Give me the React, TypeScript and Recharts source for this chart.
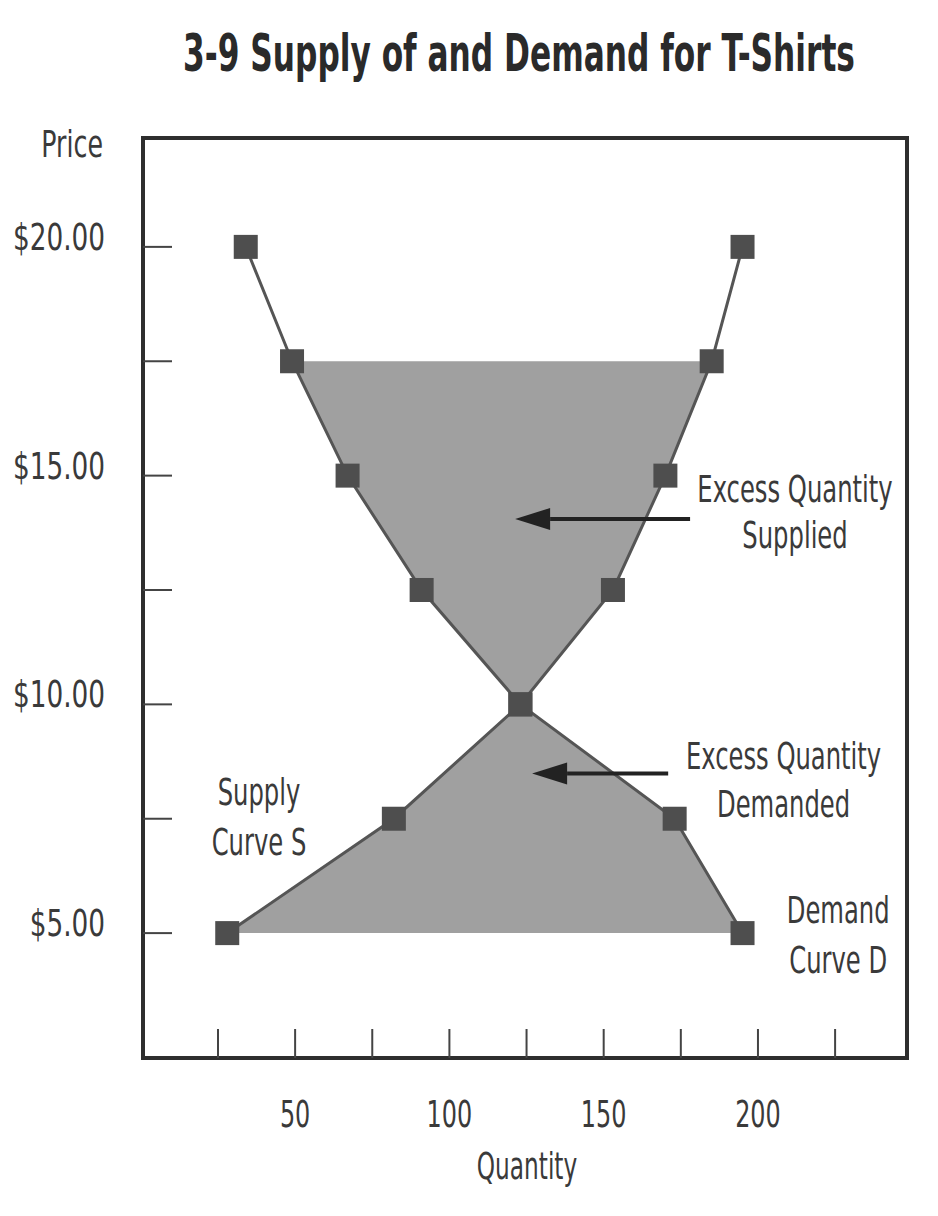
import React from 'react'
import {
  ComposedChart,
  Line,
  Area,
  XAxis,
  YAxis,
  ReferenceArea,
  ReferenceLine,
  ReferenceDot,
} from 'recharts'

// price levels and the quantity at that price
const prices = [5, 7.5, 10, 12.5, 15, 17.5, 20]
const supplyQty = [28, 82, 123, 153, 170, 185, 195]
const demandQty = [195, 173, 123, 91, 67, 49, 34]

const priceTicks = [5, 7.5, 10, 12.5, 15, 17.5, 20]
const quantityTicks = [25, 50, 75, 100, 125, 150, 175, 200, 225]
const labelledQuantities = [50, 100, 150, 200]

const data = prices.map((price, i) => ({
  price,
  supply: supplyQty[i],
  demand: demandQty[i],
}))

const FONT = "'Liberation Sans Narrow', 'DejaVu Sans Condensed', 'Arial Narrow', sans-serif"
const INK = '#3a3a3a'

function T({ x, y, anchor = 'start', size = 38, weight = 400, sx = 0.71, fill = INK, children }: any) {
  return (
    <text
      transform={`translate(${x},${y}) scale(${sx},1)`}
      textAnchor={anchor}
      fontFamily={FONT}
      fontSize={size}
      fontWeight={weight}
      fill={fill}
    >
      {children}
    </text>
  )
}

const PriceTick = (props: any) => {
  const { x, y, payload } = props
  const v = payload.value
  return (
    <g>
      <line x1={x} y1={y} x2={x + 29} y2={y} stroke="#444" strokeWidth={2} />
      {v % 5 === 0 && (
        <T x={x - 38} y={y + 3} anchor="end" sx={0.77}>{`$${v.toFixed(2)}`}</T>
      )}
    </g>
  )
}

const QuantityTick = (props: any) => {
  const { x, y, payload } = props
  const v = payload.value
  return (
    <g>
      <line x1={x} y1={y} x2={x} y2={y - 29} stroke="#444" strokeWidth={2} />
      {labelledQuantities.includes(v) && (
        <T x={x} y={y + 69} anchor="middle" sx={0.7}>{v}</T>
      )}
    </g>
  )
}

const squareDot = (p: any) => {
  if (p.cx == null || p.cy == null) return <g key={p.index} />
  return <rect key={p.index} x={p.cx - 12} y={p.cy - 12} width={24} height={24} fill="#4e4e4e" />
}

const arrowShape = (p: any) => {
  const { x1, y1, x2, y2 } = p
  const dir = x2 < x1 ? 1 : -1
  const head = 35
  return (
    <g>
      <line x1={x1} y1={y1} x2={x2 + dir * head} y2={y2} stroke="#222" strokeWidth={4} />
      <polygon
        points={`${x2},${y2} ${x2 + dir * head},${y2 - 11} ${x2 + dir * head},${y2 + 11}`}
        fill="#222"
      />
    </g>
  )
}

const noteShape = (lines: string[], gap: number) => (p: any) => (
  <g>
    {lines.map((l, i) => (
      <T key={i} x={p.cx} y={p.cy + i * gap} anchor="middle">{l}</T>
    ))}
  </g>
)

// shaded gap between the two curves, below the top price
const shadedBand = (d: any) => (d.price < 20 ? [d.supply, d.demand] : null)

export default function App() {
  return (
    <div style={{ position: 'absolute', left: 0, top: 0, width: 938, height: 1216, background: '#fff' }}>
      <ComposedChart
        width={938}
        height={1216}
        data={data}
        layout="vertical"
        margin={{ top: 138, right: 31, bottom: 98, left: 43 }}
      >
        <XAxis
          type="number"
          domain={[0.7, 248.3]}
          ticks={quantityTicks}
          interval={0}
          allowDataOverflow
          axisLine={false}
          tickLine={false}
          tickSize={0}
          tickMargin={0}
          height={60}
          tick={<QuantityTick />}
        />
        <YAxis
          type="number"
          dataKey="price"
          domain={[2.27, 22.38]}
          reversed
          ticks={priceTicks}
          interval={0}
          allowDataOverflow
          axisLine={false}
          tickLine={false}
          tickSize={0}
          tickMargin={0}
          width={100}
          tick={<PriceTick />}
        />
        <Area
          dataKey={shadedBand}
          stroke="none"
          fill="#a0a0a0"
          fillOpacity={1}
          isAnimationActive={false}
        />
        <ReferenceArea
          x1={0.7}
          x2={248.3}
          y1={2.27}
          y2={22.38}
          fill="none"
          stroke="#2e2e2e"
          strokeWidth={4}
          ifOverflow="visible"
        />
        <Line dataKey="supply" stroke="#555" strokeWidth={3} dot={squareDot} isAnimationActive={false} />
        <Line dataKey="demand" stroke="#555" strokeWidth={3} dot={squareDot} isAnimationActive={false} />
        <ReferenceLine
          segment={[{ x: 178, y: 14.05 }, { x: 121.3, y: 14.05 }]}
          shape={arrowShape}
          ifOverflow="visible"
        />
        <ReferenceLine
          segment={[{ x: 170.9, y: 8.49 }, { x: 126.8, y: 8.49 }]}
          shape={arrowShape}
          ifOverflow="visible"
        />
        <ReferenceDot x={212} y={14.42} ifOverflow="visible" shape={noteShape(['Excess Quantity', 'Supplied'], 46)} />
        <ReferenceDot x={208.3} y={8.58} ifOverflow="visible" shape={noteShape(['Excess Quantity', 'Demanded'], 48)} />
        <ReferenceDot x={38.3} y={7.79} ifOverflow="visible" shape={noteShape(['Supply', 'Curve S'], 50)} />
        <ReferenceDot x={226} y={5.21} ifOverflow="visible" shape={noteShape(['Demand', 'Curve D'], 50)} />
      </ComposedChart>
      <svg
        width={938}
        height={1216}
        style={{ position: 'absolute', left: 0, top: 0, pointerEvents: 'none' }}
      >
        <text
          transform="translate(519,71) scale(0.66,1)"
          textAnchor="middle"
          fontFamily={FONT}
          fontSize={52}
          fontWeight={700}
          fill="#2a2a2a"
          textLength={1018}
          lengthAdjust="spacingAndGlyphs"
        >
          3-9 Supply of and Demand for T-Shirts
        </text>
        <T x={103} y={157} anchor="end" sx={0.74}>Price</T>
        <T x={527} y={1179} anchor="middle" sx={0.68}>Quantity</T>
      </svg>
    </div>
  )
}
